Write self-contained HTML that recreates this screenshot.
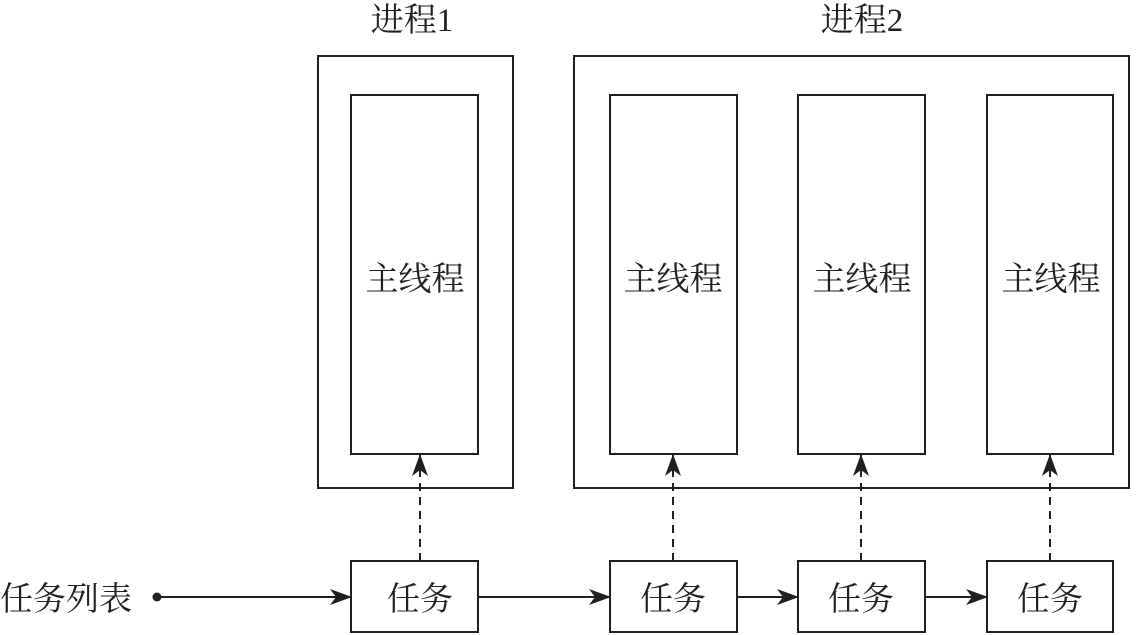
<!DOCTYPE html>
<html><head><meta charset="utf-8"><style>
html,body{margin:0;padding:0;background:#fff;}
svg{display:block;}
text{font-family:"Liberation Serif","Noto Serif CJK SC",serif;fill:#231f20;}
</style></head><body>
<svg width="1145" height="635" viewBox="0 0 1145 635" xmlns="http://www.w3.org/2000/svg">
<defs>
<marker id="a" markerWidth="22" markerHeight="16" refX="21" refY="8" orient="auto" markerUnits="userSpaceOnUse">
<path d="M0,0 L22,8 L0,16 L6,8 Z" fill="#231f20"/>
</marker>
</defs>
<g fill="none" stroke="#231f20" stroke-width="2">
<rect x="318" y="56" width="195" height="432"/>
<rect x="351" y="95" width="127" height="359"/>
<rect x="574" y="56" width="555" height="432"/>
<rect x="610" y="95" width="127" height="359"/>
<rect x="798" y="95" width="127" height="359"/>
<rect x="987" y="95" width="126" height="359"/>
<rect x="351" y="561" width="127" height="71"/>
<rect x="610" y="561" width="127" height="71"/>
<rect x="798" y="561" width="127" height="71"/>
<rect x="987" y="561" width="126" height="71"/>
<line x1="157" y1="597" x2="351" y2="597" marker-end="url(#a)"/>
<line x1="478" y1="597" x2="610" y2="597" marker-end="url(#a)"/>
<line x1="737" y1="597" x2="798" y2="597" marker-end="url(#a)"/>
<line x1="925" y1="597" x2="987" y2="597" marker-end="url(#a)"/>
<g stroke-dasharray="8,6">
<line x1="420" y1="561" x2="420" y2="455" marker-end="url(#a)"/>
<line x1="673" y1="561" x2="673" y2="455" marker-end="url(#a)"/>
<line x1="861" y1="561" x2="861" y2="455" marker-end="url(#a)"/>
<line x1="1050" y1="561" x2="1050" y2="455" marker-end="url(#a)"/>
</g>
</g>
<circle cx="157" cy="597" r="4.5" fill="#231f20"/>
<g font-size="33" text-anchor="middle">
<text x="412" y="31">进程1</text>
<text x="862" y="31">进程2</text>
<text x="415" y="290">主线程</text>
<text x="673" y="290">主线程</text>
<text x="862" y="290">主线程</text>
<text x="1051" y="290">主线程</text>
<text x="420" y="610">任务</text>
<text x="673" y="610">任务</text>
<text x="861" y="610">任务</text>
<text x="1050" y="610">任务</text>
<text x="66" y="610">任务列表</text>
</g>
</svg>
</body></html>
